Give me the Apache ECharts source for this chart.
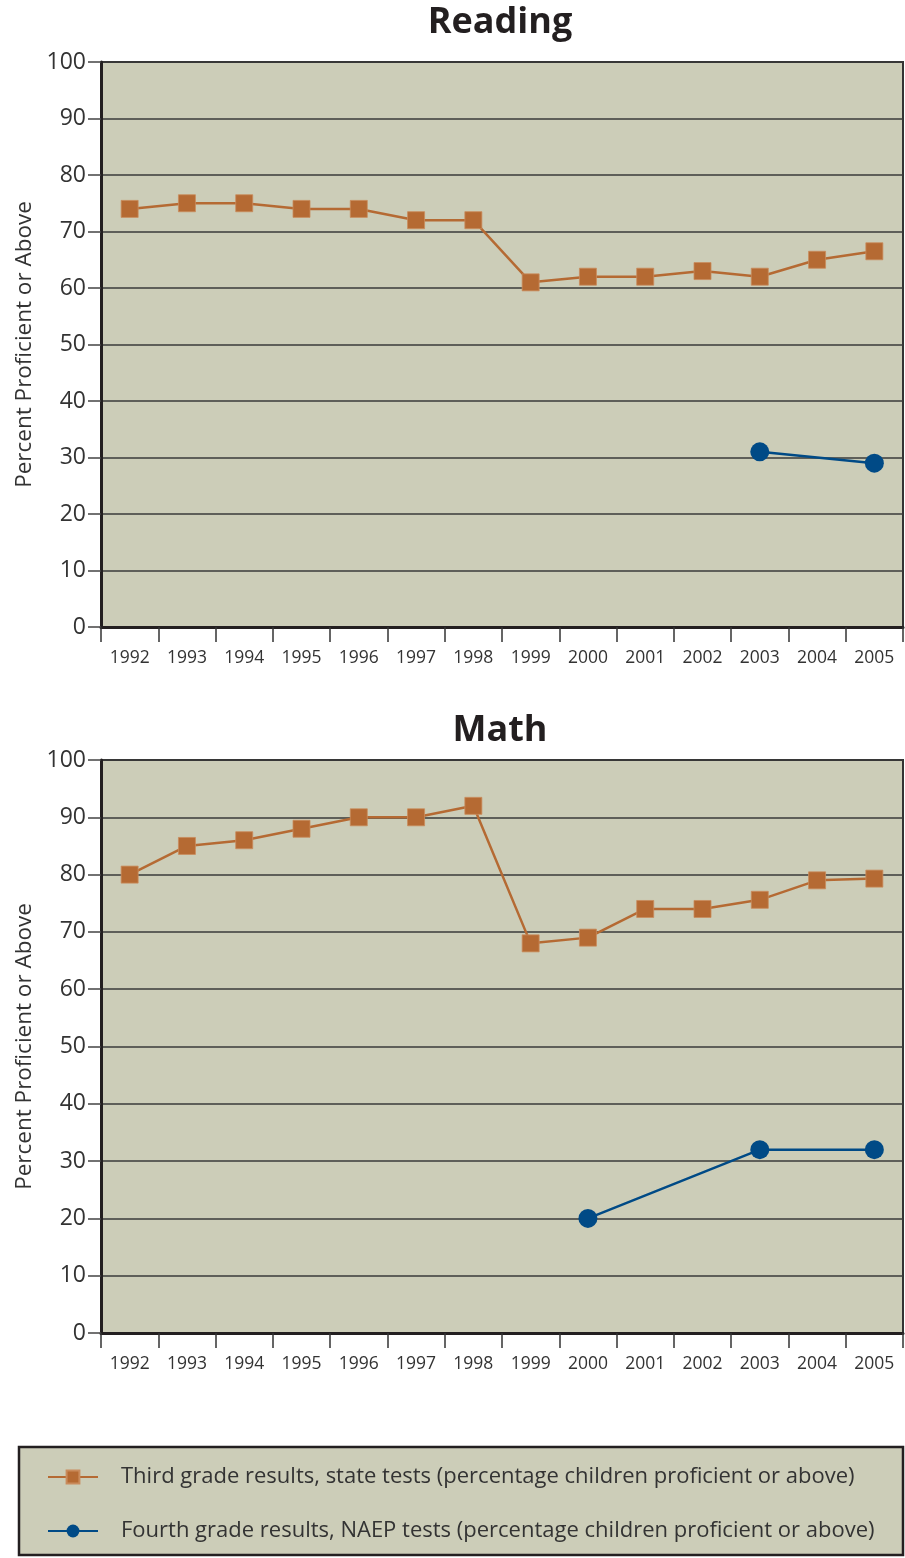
<!DOCTYPE html>
<html>
<head>
<meta charset="utf-8">
<script src="https://cdn.jsdelivr.net/npm/echarts@6/dist/echarts.min.js"></script>
<style>
  html, body { margin: 0; padding: 0; background: #ffffff; }
  #chart { width: 905px; height: 1558px; }
</style>
</head>
<body>
<div id="chart"></div>
<script>
// School years on the category axis
const years = ['1992','1993','1994','1995','1996','1997','1998','1999','2000','2001','2002','2003','2004','2005'];
const yTicks = [0, 10, 20, 30, 40, 50, 60, 70, 80, 90, 100];

// Reading: percent proficient or above
const readingState = [74, 75, 75, 74, 74, 72, 72, 61, 62, 62, 63, 62, 65, 66.5];
const readingNaep  = [null, null, null, null, null, null, null, null, null, null, null, 31, null, 29];

// Math: percent proficient or above
const mathState = [80, 85, 86, 88, 90, 90, 92, 68, 69, 74, 74, 75.6, 79, 79.3];
const mathNaep  = [null, null, null, null, null, null, null, null, 20, null, null, 32, null, 32];

const stateName = 'Third grade results, state tests (percentage children proficient or above)';
const naepName  = 'Fourth grade results, NAEP tests (percentage children proficient or above)';

const ORANGE = '#B56A33';
const BLUE = '#004A86';
const PLOT_BG = '#CCCDB8';
const FONT = '"Open Sans", "Liberation Sans", sans-serif';

function xAxis(gridIndex) {
  return {
    type: 'category', gridIndex, data: years, boundaryGap: true,
    axisLine: { show: true, lineStyle: { color: '#231F20', width: 3 } },
    axisTick: { show: true, length: 15, lineStyle: { color: '#333', width: 1.5 } },
    axisLabel: { color: '#333', fontSize: 17.5, fontFamily: FONT, margin: 22 },
    splitLine: { show: false }
  };
}
function yAxis(gridIndex) {
  return {
    type: 'value', gridIndex, min: 0, max: 100, interval: 10,
    name: 'Percent Proficient or Above', nameLocation: 'middle', nameGap: 62, nameRotate: 90,
    nameTextStyle: { color: '#333', fontSize: 22.5, fontFamily: FONT },
    axisLine: { show: true, lineStyle: { color: '#231F20', width: 3 } },
    axisTick: { show: true, length: 13, lineStyle: { color: '#444', width: 1.5 } },
    axisLabel: {
      color: '#333', fontSize: 23, fontFamily: FONT, margin: 15,
      formatter: v => (yTicks.includes(v) ? String(v) : '')
    },
    splitLine: { show: true, lineStyle: { color: '#3a3a3a', width: 1.5 } }
  };
}
function stateSeries(data, idx) {
  return {
    name: stateName, type: 'line', xAxisIndex: idx, yAxisIndex: idx, data,
    symbol: 'rect', symbolSize: 17, showSymbol: true,
    lineStyle: { color: ORANGE, width: 2.5 },
    itemStyle: { color: ORANGE, borderColor: '#C98B5C', borderWidth: 0.8 },
    emphasis: { disabled: true }, z: 3
  };
}
function naepSeries(data, idx) {
  return {
    name: naepName, type: 'line', xAxisIndex: idx, yAxisIndex: idx, data,
    connectNulls: true, symbol: 'circle', symbolSize: 19, showSymbol: true,
    lineStyle: { color: BLUE, width: 2.5 },
    itemStyle: { color: BLUE },
    emphasis: { disabled: true }, z: 4
  };
}

const chart = echarts.init(document.getElementById('chart'), null, { renderer: 'canvas' });
chart.setOption({
  animation: false,
  backgroundColor: '#ffffff',
  title: [
    { text: 'Reading', left: 495, top: 0, textAlign: 'center',
      textStyle: { fontSize: 36, fontWeight: 'bold', color: '#231F20', fontFamily: FONT } },
    { text: 'Math', left: 495, top: 708, textAlign: 'center',
      textStyle: { fontSize: 36, fontWeight: 'bold', color: '#231F20', fontFamily: FONT } }
  ],
  grid: [
    { left: 101, right: 2, top: 62, height: 565, show: true, backgroundColor: PLOT_BG, borderColor: '#333', borderWidth: 2 },
    { left: 101, right: 2, top: 760, height: 573, show: true, backgroundColor: PLOT_BG, borderColor: '#333', borderWidth: 2 }
  ],
  xAxis: [xAxis(0), xAxis(1)],
  yAxis: [yAxis(0), yAxis(1)],
  // legend frame
  graphic: [{
    type: 'rect', z: 0, silent: true,
    shape: { x: 19, y: 1447, width: 884, height: 108 },
    style: { fill: PLOT_BG, stroke: '#231F20', lineWidth: 2.5 }
  }],
  legend: {
    orient: 'vertical', left: 47, top: 1466,
    padding: 0, itemGap: 32, itemWidth: 50, itemHeight: 16,
    selectedMode: false,
    textStyle: { color: '#333', fontSize: 22, fontFamily: FONT, padding: [0, 0, 0, 18] },
    data: [stateName, naepName]
  },
  series: [
    stateSeries(readingState, 0), naepSeries(readingNaep, 0),
    stateSeries(mathState, 1), naepSeries(mathNaep, 1)
  ]
});
</script>
</body>
</html>
